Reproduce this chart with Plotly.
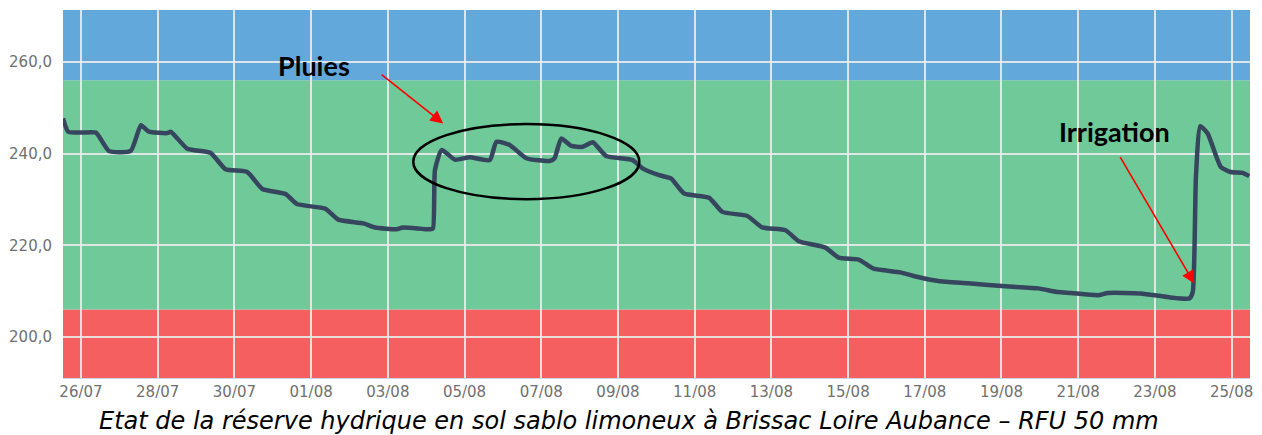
import plotly.graph_objects as go

# ---- data ----
dates = [
    "2022-07-25 12:45", "2022-07-25 16:00", "2022-07-26 00:00", "2022-07-26 09:20",
    "2022-07-26 17:30", "2022-07-27 07:10", "2022-07-27 13:30", "2022-07-27 18:30",
    "2022-07-28 06:00", "2022-07-28 08:10", "2022-07-28 18:30", "2022-07-29 09:00",
    "2022-07-29 18:30", "2022-07-30 08:00", "2022-07-30 17:30", "2022-07-31 08:00",
    "2022-07-31 15:10", "2022-08-01 08:50", "2022-08-01 17:00", "2022-08-02 08:45",
    "2022-08-02 16:00", "2022-08-03 05:30", "2022-08-03 09:30", "2022-08-04 02:20",
    "2022-08-04 04:15", "2022-08-04 05:30", "2022-08-04 09:40", "2022-08-04 18:00",
    "2022-08-05 03:20", "2022-08-05 15:45", "2022-08-05 20:00", "2022-08-06 04:15",
    "2022-08-06 14:40", "2022-08-07 05:15", "2022-08-07 08:20", "2022-08-07 12:30",
    "2022-08-07 18:45", "2022-08-08 02:00", "2022-08-08 08:15", "2022-08-08 16:35",
    "2022-08-09 09:10", "2022-08-09 15:25", "2022-08-10 01:50", "2022-08-10 09:10",
    "2022-08-10 17:25", "2022-08-11 09:00", "2022-08-11 17:20", "2022-08-12 09:00",
    "2022-08-12 18:15", "2022-08-13 08:50", "2022-08-13 17:10", "2022-08-14 09:50",
    "2022-08-14 18:10", "2022-08-15 06:40", "2022-08-15 16:00", "2022-08-16 08:40",
    "2022-08-16 17:00", "2022-08-17 08:30", "2022-08-18 03:15", "2022-08-19 00:00",
    "2022-08-19 23:00", "2022-08-20 11:20", "2022-08-20 19:30", "2022-08-21 12:20",
    "2022-08-21 18:35", "2022-08-22 15:10", "2022-08-23 08:00", "2022-08-23 21:30",
    "2022-08-23 23:40", "2022-08-24 01:40", "2022-08-24 04:25", "2022-08-24 09:00",
    "2022-08-24 17:15", "2022-08-24 23:30", "2022-08-25 06:50", "2022-08-25 11:00",
]
reserve_mm = [
    247.7, 244.8, 244.6, 244.6,
    240.6, 240.6, 246.2, 244.8,
    244.5, 244.8, 241.1, 240.2,
    236.6, 236.0, 232.3, 231.2,
    229.0, 228.0, 225.6, 224.8,
    223.9, 223.5, 223.9, 223.5,
    223.7, 236.4, 240.8, 238.7,
    239.2, 238.6, 242.6, 241.9,
    239.0, 238.4, 239.0, 243.3,
    241.7, 241.5, 242.5, 239.5,
    238.6, 236.8, 235.3, 234.6,
    231.3, 230.4, 227.3, 226.4,
    223.9, 223.3, 220.9, 219.5,
    217.3, 216.9, 214.9, 214.1,
    213.3, 212.2, 211.7, 211.1,
    210.6, 209.8, 209.6, 209.1,
    209.6, 209.5, 208.7, 208.4,
    209.8, 234.9, 246.0, 244.4,
    237.1, 236.0, 235.8, 235.1,
]

# zone thresholds (mm)
zone_red_top = 206
zone_blue_bottom = 256
y_range = [191.04, 271.36]
x_range = ["2022-07-25 12:45", "2022-08-25 11:30"]

caption = "Etat de la réserve hydrique en sol sablo limoneux à Brissac Loire Aubance – RFU 50 mm"

fig = go.Figure()
fig.add_trace(go.Scatter(
    x=dates, y=reserve_mm, mode="lines",
    line=dict(color="#36465e", width=4.5, shape="spline", smoothing=0.5),
    showlegend=False, hoverinfo="x+y",
))

bands = [
    (y_range[0], zone_red_top, "#f65f5f"),
    (zone_red_top, zone_blue_bottom, "#70c998"),
    (zone_blue_bottom, y_range[1], "#62a8db"),
]
for y0, y1, col in bands:
    fig.add_shape(type="rect", xref="paper", yref="y", x0=0, x1=1, y0=y0, y1=y1,
                  fillcolor=col, line_width=0, layer="below")

# ellipse around rain events
fig.add_shape(type="circle", xref="x", yref="y",
              x0="2022-08-03 15:56", x1="2022-08-09 13:22", y0=230.07, y1=246.46,
              line=dict(color="black", width=2.5), fillcolor="rgba(0,0,0,0)", layer="above")

fig.add_annotation(x="2022-08-04 10:38", y=246.6, ax=-63, ay=-50, xref="x", yref="y",
                   text="", showarrow=True, arrowhead=2, arrowsize=1.6, arrowwidth=1.6,
                   arrowcolor="#ff0000")
fig.add_annotation(x="2022-08-24 00:40", y=211.66, ax=-75, ay=-128, xref="x", yref="y",
                   text="", showarrow=True, arrowhead=2, arrowsize=1.6, arrowwidth=1.6,
                   arrowcolor="#ff0000")
fig.add_annotation(x=0.2116, y=0.848, xref="paper", yref="paper", text="<b>Pluies</b>",
                   xanchor="center", yanchor="middle", showarrow=False,
                   font=dict(family="Lato", size=27, color="black"))
fig.add_annotation(x=0.8856, y=0.671, xref="paper", yref="paper", text="<b>Irrigation</b>",
                   xanchor="center", yanchor="middle", showarrow=False,
                   font=dict(family="Lato", size=27, color="black"))
fig.add_annotation(x=0.477, y=-0.117, xref="paper", yref="paper", text=caption,
                   xanchor="center", yanchor="middle", showarrow=False,
                   font=dict(family="DejaVu Sans", size=24, color="black", style="italic"))

fig.update_layout(
    width=1262, height=435,
    margin=dict(l=62, r=9, t=10, b=57, pad=0),
    paper_bgcolor="white", plot_bgcolor="white",
    separators=", ",
    font=dict(family="DejaVu Sans", size=15, color="#707070"),
    xaxis=dict(range=x_range, type="date", tick0="2022-07-26", dtick=2 * 86400000,
               tickformat="%d/%m", showgrid=True, gridcolor="rgba(235,235,235,0.9)",
               gridwidth=1.5, zeroline=False, showline=True, linecolor="#ccd6eb",
               ticks="", ticklen=0, fixedrange=True),
    yaxis=dict(range=y_range, tickvals=[200, 220, 240, 260], tickformat=".1f",
               showgrid=True, gridcolor="rgba(235,235,235,0.9)", gridwidth=1.5,
               zeroline=False, showline=False, ticks="", ticklabelstandoff=10),
)

fig.write_html("out.html", config={"displayModeBar": False},
               post_script="document.body.style.margin='0';")
